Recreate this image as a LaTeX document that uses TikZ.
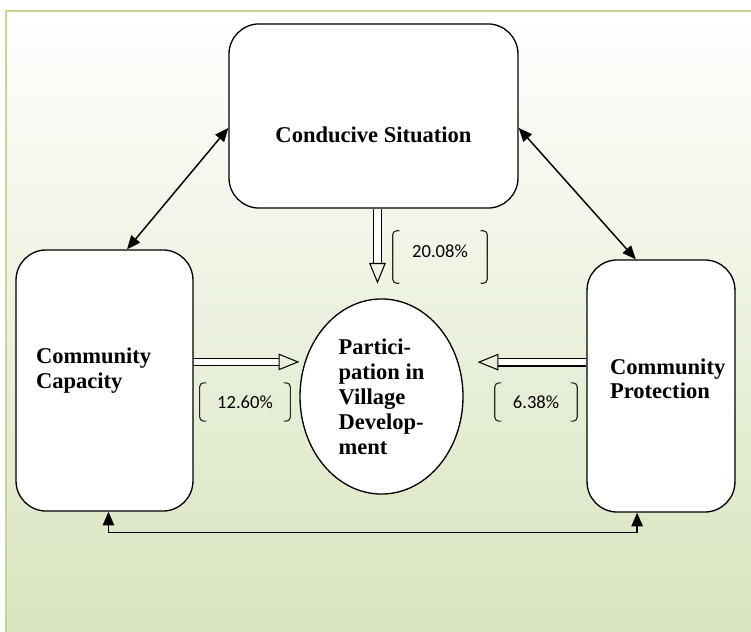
\documentclass[tikz,border=0pt]{standalone}
\usepackage{fontspec}
\setmainfont{Liberation Serif}
\newfontfamily\numfont{Carlito}
\usepackage{tikz}
\usetikzlibrary{arrows.meta,positioning,shapes.geometric,calc}
\hyphenpenalty=10000
\definecolor{bggreen}{RGB}{216,228,190}
\definecolor{framegreen}{RGB}{196,215,155}
\tikzset{
  factorbox/.style={
    rectangle,
    rounded corners=0.8cm,
    draw=black,
    line width=1pt,
    fill=white,
    inner sep=0pt,
    font=\fontsize{17}{18.8}\selectfont\bfseries
  },
  outcome/.style={
    ellipse,
    draw=black,
    line width=1pt,
    fill=white,
    inner sep=0pt,
    align=left,
    font=\fontsize{17}{18.8}\selectfont\bfseries
  },
  share/.style={
    rectangle,
    minimum height=1cm,
    inner sep=0pt,
    font=\numfont\fontsize{14}{16}\selectfont
  },
  bracket/.style={draw=black!85, line width=0.85pt, rounded corners=3pt},
  link/.style={{Triangle[length=3.6mm,width=3mm]}-{Triangle[length=3.6mm,width=3mm]}, line width=1.1pt},
  effect/.style={double=white, double distance=5pt, line width=0.8pt,
    -{Triangle[open,length=5.5mm,width=4.4mm]}}
}

\begin{document}
\begin{tikzpicture}[x=0.0265cm, y=-0.0265cm]
\useasboundingbox (0,0) rectangle (751,632);
% background panel
\shade[top color=white, bottom color=bggreen] (6,11) rectangle (751,632);
\draw[framegreen, line width=1.6pt] (6,632) -- (6,11) -- (751,11);

\node[factorbox, minimum width=7.66cm, minimum height=4.88cm, text height=1.4cm] (cs) at (373.5,116) {Conducive Situation};
\node[factorbox, minimum width=4.69cm, minimum height=6.92cm, text width=3.63cm, align=left, text depth=1.3cm] (cc) at (104.5,380.5) {Community\\Capacity};
\node[factorbox, minimum width=3.92cm, minimum height=6.68cm, text width=2.70cm, align=left, text depth=1.05cm] (cp) at (661,386) {Community\\Protection};
\node[outcome, minimum width=4.32cm, minimum height=5.17cm] (pv) at (381.5,396.5) {Partici-\\pation in\\Village\\Develop-\\ment};

\node[share, minimum width=2.49cm, minimum height=1.38cm, text depth=0.3cm] (p1) at (440,257) {20.08\%};
\node[share, minimum width=2.39cm] (p2) at (245,402) {12.60\%};
\node[share, minimum width=2.17cm] (p3) at (536,402) {6.38\%};
\foreach \p in {p1,p2,p3} {
  \draw[bracket] ([xshift=5pt]\p.north west) -- (\p.north west) -- (\p.south west) -- ([xshift=5pt]\p.south west);
  \draw[bracket] ([xshift=-5pt]\p.north east) -- (\p.north east) -- (\p.south east) -- ([xshift=-5pt]\p.south east);
}

% effects on participation
\draw[effect] ([xshift=3pt]cs.south) -- ([xshift=3pt,yshift=11pt]cs.south |- pv.north);
\draw[effect] ([yshift=14pt]cc.east) -- ([yshift=14pt]cc.east -| pv.west);
\draw[effect] ([yshift=18pt]cp.west) -- ([yshift=18pt,xshift=10.5pt]cp.west -| pv.east);

% mutual links
\draw[link] ([yshift=-9pt]cs.west) -- ([xshift=17pt]cc.north);
\draw[link] ([yshift=-9pt]cs.east) -- ([xshift=-19pt]cp.north);
\draw[link] ([xshift=3pt]cc.south) -- ++(0,21) -| ([xshift=-18pt]cp.south);
\end{tikzpicture}
\end{document}
